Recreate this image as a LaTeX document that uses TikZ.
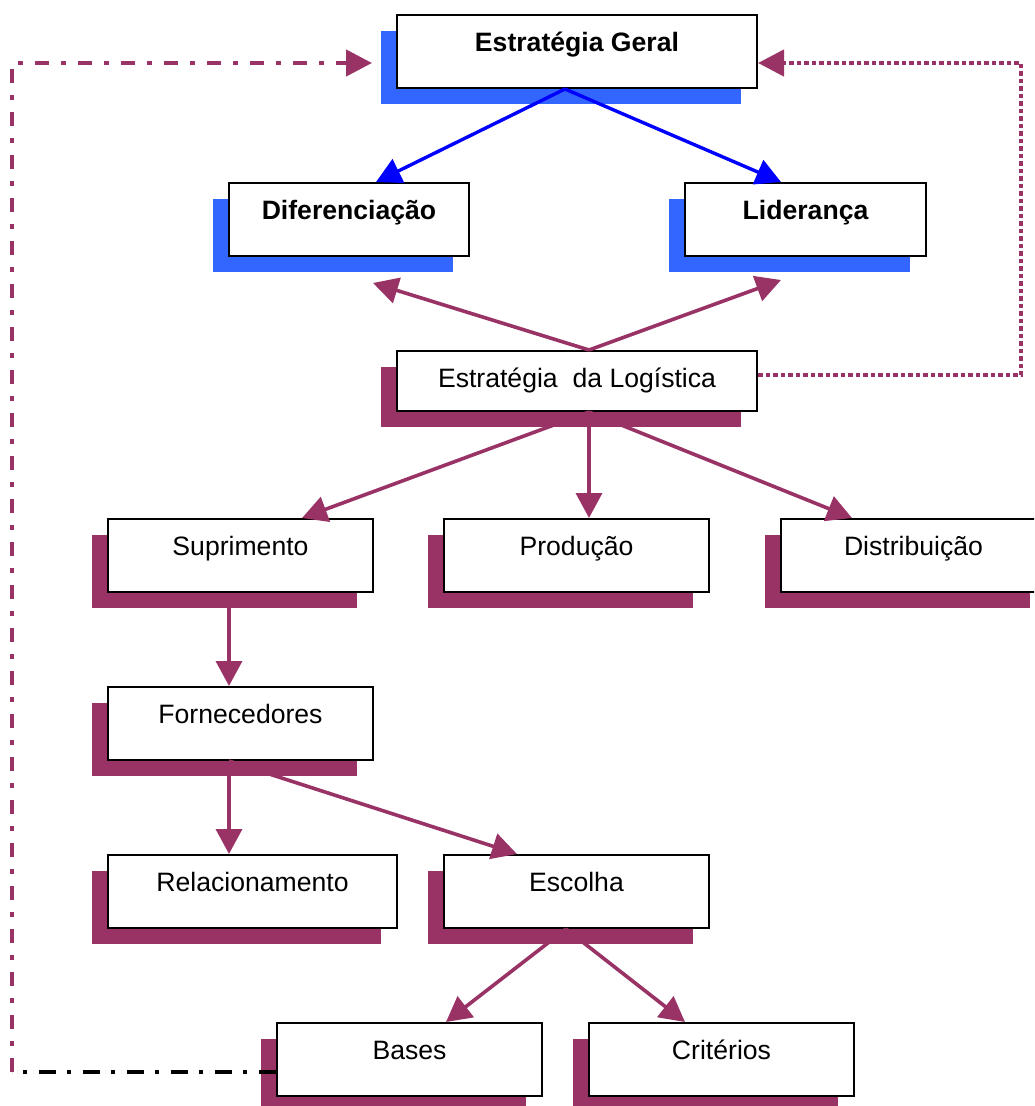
\documentclass[tikz,border=0pt]{standalone}
\usepackage{fontspec}
\setmainfont{Liberation Sans}
\usetikzlibrary{arrows.meta,shadows}
\definecolor{plum}{HTML}{993366}
\definecolor{shadowblue}{HTML}{3366FF}
\definecolor{arrowblue}{HTML}{0000FF}

\begin{document}
\begin{tikzpicture}[x=1pt,y=-1pt,
  box/.style={draw=black, line width=2pt, fill=white, inner sep=0pt,
    minimum height=73pt, text height=36pt, text depth=37pt,
    font=\fontsize{26.6}{30}\selectfont},
  boldbox/.style={box, font=\fontsize{26.6}{30}\selectfont\bfseries},
  blueshadow/.style={general shadow={fill=shadowblue, shadow xshift=-16pt, shadow yshift=-16pt}},
  plumshadow/.style={general shadow={fill=plum, shadow xshift=-16pt, shadow yshift=-16pt}},
  bluearrow/.style={draw=arrowblue, line width=3.4pt, -{Triangle[length=25pt,width=26pt]}},
  plumarrow/.style={draw=plum, line width=3.6pt, -{Triangle[length=25pt,width=26pt]}},
  feedbackdot/.style={draw=plum, line width=4.5pt, dash pattern=on 4.5pt off 3pt,
    -{Triangle[length=26pt,width=26pt]}},
  feedbackdash/.style={draw=plum, line width=4.5pt, dash pattern=on 14pt off 12pt on 5pt off 12pt,
    -{Triangle[length=26pt,width=26pt]}},
  basesdash/.style={draw=black, line width=4.5pt, dash pattern=on 17pt off 12pt on 4pt off 11pt}
]
\clip (0,0) rectangle (1034,1106);

% strategy level
\node[boldbox, blueshadow, minimum width=360pt] (geral) at (577,51.5) {Estratégia Geral};
\node[boldbox, blueshadow, minimum width=240pt] (dif) at (349,219.5) {Diferenciação};
\node[boldbox, blueshadow, minimum width=241pt] (lid) at (805.5,219.5) {Liderança};

% logistics strategy
\node[box, plumshadow, minimum width=360pt, minimum height=60pt, text depth=24pt] (log) at (577,381) {Estratégia\ \ da Logística};

% logistics areas
\node[box, plumshadow, minimum width=265pt] (sup) at (240.5,555.5) {Suprimento};
\node[box, plumshadow, minimum width=265pt] (prod) at (576.5,555.5) {Produção};
\node[box, plumshadow, minimum width=265pt] (dist) at (913.5,555.5) {Distribuição};

% supply chain detail
\node[box, plumshadow, minimum width=265pt] (forn) at (240.5,723.5) {Fornecedores};
\node[box, plumshadow, minimum width=289pt] (rel) at (252.5,891.5) {Relacionamento};
\node[box, plumshadow, minimum width=265pt] (esc) at (576.5,891.5) {Escolha};
\node[box, plumshadow, minimum width=265pt] (bases) at (409.5,1059.5) {Bases};
\node[box, plumshadow, minimum width=265pt] (crit) at (721.5,1059.5) {Critérios};

% corners of the feedback loops
\coordinate (rc) at (1021,63);
\coordinate (lc) at (12,1072);

% general strategy to its two options
\draw[bluearrow] ([xshift=-12pt]geral.south) -- ([xshift=27pt]dif.north);
\draw[bluearrow] ([xshift=-12pt]geral.south) -- ([xshift=-24.5pt]lid.north);

% logistics strategy supports both options
\draw[plumarrow] ([xshift=12pt]log.north) -- ([xshift=24pt,yshift=-26pt]dif.south);
\draw[plumarrow] ([xshift=12pt]log.north) -- ([xshift=-24.5pt,yshift=-23pt]lid.south);

% logistics strategy to its areas
\draw[plumarrow] ([xshift=12pt]log.south) -- ([xshift=61.5pt]sup.north);
\draw[plumarrow] ([xshift=12pt]log.south) -- ([xshift=12.5pt]prod.north);
\draw[plumarrow] ([xshift=12pt]log.south) -- ([xshift=-61.5pt]dist.north);

% supply branch
\draw[plumarrow] ([xshift=-11.5pt]sup.south) -- ([xshift=-11.5pt]forn.north);
\draw[plumarrow] ([xshift=-11.5pt]forn.south) -- ([xshift=-23.5pt]rel.north);
\draw[plumarrow] ([xshift=-11.5pt]forn.south) -- ([xshift=-59.5pt]esc.north);
\draw[plumarrow] ([xshift=-10.5pt]esc.south) -- ([xshift=36.5pt]bases.north);
\draw[plumarrow] ([xshift=-10.5pt]esc.south) -- ([xshift=-36.5pt]crit.north);

% feedback from logistics strategy
\draw[feedbackdot] ([yshift=6pt]log.east) -| (rc) -- ([yshift=-11.5pt]geral.east);

% feedback from the bases of choice
\draw[basesdash] ([yshift=-12.5pt]bases.west) -- (lc);
\draw[feedbackdash] (lc) |- ([xshift=-24pt,yshift=-11.5pt]geral.west);
\end{tikzpicture}
\end{document}
